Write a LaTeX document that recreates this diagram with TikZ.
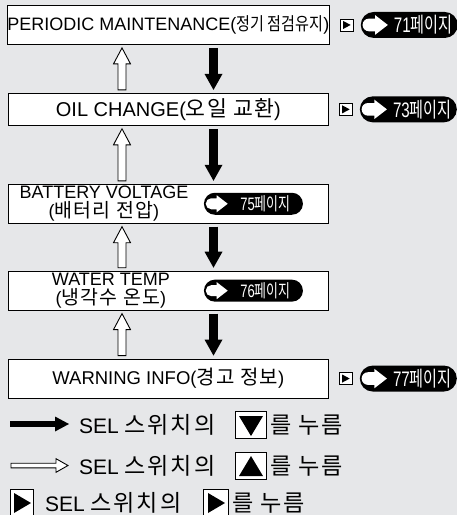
\documentclass[tikz,border=0pt]{standalone}
\usepackage{fontspec}
\usepackage{graphicx}
\setmainfont{Liberation Sans}
\newfontfamily\kr{Noto Sans CJK KR}
\newfontfamily\krs{Noto Sans CJK KR}[LetterSpace=8, Scale=1.1]
\newfontfamily\krm{Noto Sans CJK KR}[LetterSpace=6, Scale=1.08]
\usetikzlibrary{calc, positioning, arrows.meta}
\definecolor{pagegray}{HTML}{E6E7E9}

\tikzset{
  pillicon/.pic={
    \fill[white] (11pt,5.5pt) -- (5.5pt,5.5pt)
      arc[start angle=90, end angle=270, radius=5.5pt]
      -- (11pt,-5.5pt) -- (11pt,-8.5pt) -- (22pt,0pt) -- (11pt,8.5pt) -- cycle;
  },
  tridown/.pic={\fill (-12pt,9pt) -- (12pt,9pt) -- (0pt,-11pt) -- cycle;},
  triup/.pic={\fill (-12pt,-10pt) -- (12pt,-10pt) -- (0pt,10pt) -- cycle;},
  triright/.pic={\fill (-8pt,10pt) -- (9pt,0pt) -- (-8pt,-10pt) -- cycle;},
  trismall/.pic={\fill (-3.5pt,4pt) -- (4pt,0pt) -- (-3.5pt,-4pt) -- cycle;}
}

\begin{document}
\begin{tikzpicture}[x=1pt, y=-1pt,
  itembox/.style={draw, fill=white, line width=0.9pt, minimum width=320pt,
                  minimum height=39pt, inner sep=0pt},
  boxlbl/.style={align=center, inner sep=0pt, font=\fontsize{18}{19.5}\selectfont},
  pill/.style={fill=black, text=white, rounded corners=11pt, minimum width=99pt,
               minimum height=22pt, inner sep=0pt, font=\fontsize{18}{18}\selectfont},
  pillbig/.style={pill, rounded corners=13pt, minimum width=97pt,
                  minimum height=26pt, font=\fontsize{21}{21}\selectfont},
  selkey/.style={draw, fill=white, line width=0.8pt, minimum width=13pt,
                 minimum height=12pt, inner sep=0pt},
  legkey/.style={draw, fill=white, line width=0.9pt, minimum width=31pt,
                 minimum height=27pt, inner sep=0pt},
  legtext/.style={inner sep=0pt, font=\fontsize{21}{21}\selectfont},
  downarr/.style={line width=9pt, shorten <=3pt, shorten >=3pt,
                  -{Triangle[length=16pt, width=18pt, line width=0pt]}},
  legarr/.style={line width=6pt,
                 -{Triangle[length=14pt, width=15pt, line width=0pt]}},
  hollowup/.style={draw, fill=white, line width=0.9pt,
    to path={let \p1=(\tikztostart), \p2=(\tikztotarget) in
      (\x1-4pt,\y1) -- (\x1-4pt,\y2-16pt) -- (\x1-8.5pt,\y2-16pt) -- (\x2,\y2)
      -- (\x1+8.5pt,\y2-16pt) -- (\x1+4pt,\y2-16pt) -- (\x1+4pt,\y1) -- cycle}},
  hollowright/.style={draw, fill=white, line width=0.9pt,
    to path={let \p1=(\tikztostart), \p2=(\tikztotarget) in
      (\x1,\y1+2.3pt) -- (\x2-12pt,\y1+2.3pt) -- (\x2-12pt,\y1+6.8pt) -- (\x2,\y2)
      -- (\x2-12pt,\y1-6.8pt) -- (\x2-12pt,\y1-2.3pt) -- (\x1,\y1-2.3pt) -- cycle}}
]
\useasboundingbox (0,0) rectangle (457,515);
\fill[pagegray] (0,0) rectangle (457,515);

\coordinate (ucol) at (122,0);
\coordinate (dcol) at (213.5,0);

% menu boxes
\node[itembox, anchor=north west, font=\fontsize{18}{18}\selectfont] (maint) at (7,5)
  {PERIODIC MAINTENANCE(\scalebox{0.84}[1]{\kr 정기 점검유지})};
\node[itembox, minimum height=32pt, below=48pt of maint,
      font=\fontsize{20}{20}\selectfont] (oil) {OIL CHANGE({\krm 오일 교환})};
\node[itembox, below=58pt of oil] (batt) {};
\node[itembox, below=47pt of batt] (water) {};
\node[itembox, below=48pt of water, font=\fontsize{18.5}{18.5}\selectfont] (warn)
  {WARNING INFO({\krm 경고 정보})};

\node[boxlbl] (battlbl) at ([xshift=96pt]batt.west)
  {BATTERY VOLTAGE\\({\krm 배터리 전압})};
\node[boxlbl] (waterlbl) at ([xshift=103pt]water.west)
  {WATER TEMP\\({\krm 냉각수 온도})};

% page references
\node[pill] (p75) at ([xshift=245.5pt]batt.west)
  {\hspace{24pt}\scalebox{0.72}[1]{75{\kr 페이지}}};
\pic at ([xshift=2pt]p75.west) {pillicon};
\node[pill] (p76) at ([xshift=245.5pt]water.west)
  {\hspace{24pt}\scalebox{0.72}[1]{76{\kr 페이지}}};
\pic at ([xshift=2pt]p76.west) {pillicon};

\node[selkey, right=10pt of maint] (k71) {};
\pic at (k71) {trismall};
\node[pillbig, right=7pt of k71] (p71) {\hspace{28pt}\scalebox{0.72}[1]{71{\kr 페이지}}};
\pic[scale=1.15] at ([xshift=2pt]p71.west) {pillicon};
\node[selkey, right=10pt of oil] (k73) {};
\pic at (k73) {trismall};
\node[pillbig, right=7pt of k73] (p73) {\hspace{28pt}\scalebox{0.72}[1]{73{\kr 페이지}}};
\pic[scale=1.15] at ([xshift=2pt]p73.west) {pillicon};
\node[selkey, right=10pt of warn] (k77) {};
\pic at (k77) {trismall};
\node[pillbig, right=7pt of k77] (p77) {\hspace{28pt}\scalebox{0.72}[1]{77{\kr 페이지}}};
\pic[scale=1.15] at ([xshift=2pt]p77.west) {pillicon};

% down and up moves
\draw[downarr] (maint.south -| dcol) -- (oil.north -| dcol);
\draw[downarr] (oil.south -| dcol) -- (batt.north -| dcol);
\draw[downarr] (batt.south -| dcol) -- (water.north -| dcol);
\draw[downarr] (water.south -| dcol) -- (warn.north -| dcol);
\draw[hollowup] ([yshift=3pt]oil.north -| ucol) to ([yshift=-3pt]maint.south -| ucol);
\draw[hollowup] ([yshift=3pt]batt.north -| ucol) to ([yshift=-3pt]oil.south -| ucol);
\draw[hollowup] ([yshift=3pt]water.north -| ucol) to ([yshift=-3pt]batt.south -| ucol);
\draw[hollowup] ([yshift=3pt]warn.north -| ucol) to ([yshift=-3pt]water.south -| ucol);

% legend
\coordinate (la1) at (10,424);
\coordinate (lb1) at (69,424);
\draw[legarr] (la1) -- (lb1);
\node[legtext, anchor=west] (lt1) at (79,425) {SEL {\krs 스위치의}};
\node[legkey] (lk1) at (251,425) {};
\pic at (lk1) {tridown};
\node[legtext, right=3pt of lk1] (lu1) {\krs 를 누름};

\coordinate (la2) at (11,465.5);
\coordinate (lb2) at (68,465.5);
\draw[hollowright] (la2) to (lb2);
\node[legtext, anchor=west] (lt2) at (79,466) {SEL {\krs 스위치의}};
\node[legkey] (lk2) at (251,466) {};
\pic at (lk2) {triup};
\node[legtext, right=3pt of lk2] (lu2) {\krs 를 누름};

\node[legkey, minimum width=23pt] (lk3) at (22,503) {};
\pic at (lk3) {triright};
\node[legtext, anchor=west] (lt3) at (45,503) {SEL {\krs 스위치의}};
\node[legkey, minimum width=25pt] (lk4) at (216,503) {};
\pic at (lk4) {triright};
\node[legtext, right=3pt of lk4] (lu3) {\krs 를 누름};
\end{tikzpicture}
\end{document}
